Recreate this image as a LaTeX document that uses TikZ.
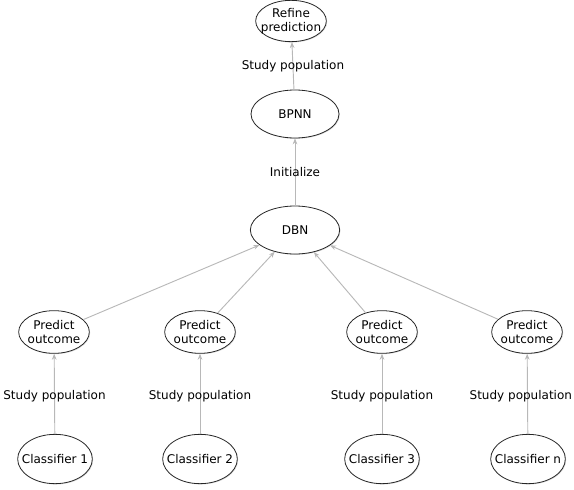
\documentclass[tikz,border=0pt]{standalone}
\usepackage{fontspec}
\setmainfont{DejaVu Sans}
\usepackage{tikz}
\usetikzlibrary{arrows.meta,positioning,shapes.geometric,shadows}
\newcommand{\nowidth}[1]{\makebox[0pt]{#1}}

\begin{document}
\begin{tikzpicture}[x=0.75pt, y=-0.75pt, >={Stealth[length=4.5pt,width=3.5pt]},
  box/.style={ellipse, draw=black!85, fill=white, line width=0.6pt, inner sep=0pt,
    align=center, font=\fontsize{9}{10.5}\selectfont,
    drop shadow={shadow xshift=0.6pt, shadow yshift=-0.6pt, opacity=0.3}},
  link/.style={->, draw=black!28, line width=0.7pt},
  lbl/.style={font=\fontsize{9}{10.5}\selectfont, text=black}]

  \useasboundingbox (0,0) rectangle (574,489);

  % Define nodes

  \node[box, minimum width=53pt, minimum height=31pt] (Ref) at (291, 21) {\nowidth{Refine}\\\nowidth{prediction}};
  \node[box, minimum width=66pt, minimum height=36pt] (BPNN) at (295, 114) {BPNN};
  \node[box, minimum width=67pt, minimum height=36pt] (DBN) at (295, 230) {DBN};
  \node[box, minimum width=53pt, minimum height=32pt] (P1) at (54, 332) {\nowidth{Predict}\\\nowidth{outcome}};
  \node[box, minimum width=53pt, minimum height=32pt] (P2) at (200, 332) {\nowidth{Predict}\\\nowidth{outcome}};
  \node[box, minimum width=53pt, minimum height=32pt] (P3) at (382, 332) {\nowidth{Predict}\\\nowidth{outcome}};
  \node[box, minimum width=53pt, minimum height=32pt] (P4) at (527, 332) {\nowidth{Predict}\\\nowidth{outcome}};
  \node[box, minimum width=56pt, minimum height=37pt] (C1) at (55, 459) {\nowidth{Classifier 1}};
  \node[box, minimum width=56pt, minimum height=37pt] (C2) at (200, 459) {\nowidth{Classifier 2}};
  \node[box, minimum width=56pt, minimum height=37pt] (C3) at (382, 459) {\nowidth{Classifier 3}};
  \node[box, minimum width=56pt, minimum height=37pt] (Cn) at (528, 459) {\nowidth{Classifier n}};

  % Draw arrows
  \draw[link] (C1) to node [lbl, midway, yshift=-1.5pt] {Study population} (P1);
  \draw[link] (C2) to node [lbl, midway, yshift=-1.5pt] {Study population} (P2);
  \draw[link] (C3) to node [lbl, midway, yshift=-1.5pt] {Study population} (P3);
  \draw[link] (Cn) to node [lbl, midway, yshift=-1.5pt, xshift=-5pt] {Study population} (P4);
  \draw[link] (P1) to (DBN);
  \draw[link] (P2) to (DBN);
  \draw[link] (P3) to (DBN);
  \draw[link] (P4) to (DBN);
  \draw[link] (DBN) to node [lbl, midway] {Initialize} (BPNN);
  \draw[link] (BPNN) to node [lbl, midway] {Study population} (Ref);
\end{tikzpicture}
\end{document}
